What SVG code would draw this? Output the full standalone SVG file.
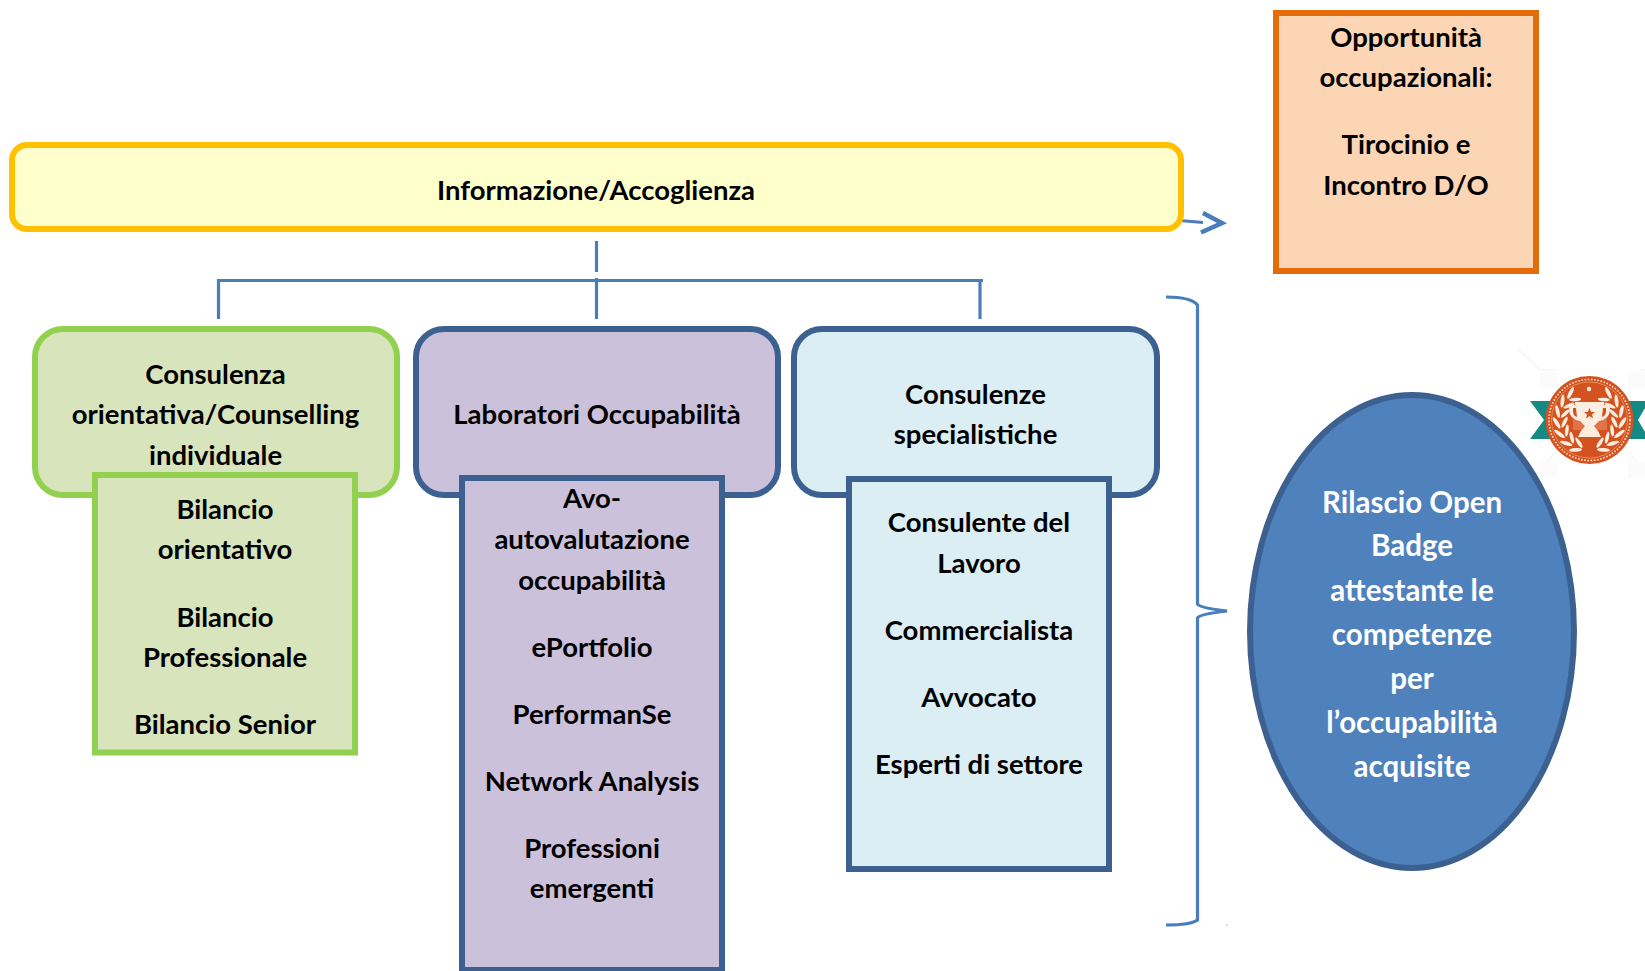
<svg xmlns="http://www.w3.org/2000/svg" width="1645" height="971" viewBox="0 0 1645 971">
<style>
text{font-family:"Lato","Carlito","Liberation Sans",sans-serif;font-weight:700;font-size:27.5px;fill:#000;text-anchor:middle}
text.w{fill:#fff;font-size:29.5px}
.c{fill:none;stroke:#4a7ebb;stroke-width:3.2}
.y{fill:#ffffcc;stroke:#ffc000;stroke-width:6}
.g{fill:#d8e4bc;stroke:#92d050;stroke-width:6}
.p{fill:#ccc1da;stroke:#3c6191;stroke-width:6}
.b{fill:#dbeef4;stroke:#3c6191;stroke-width:6}
.o{fill:#fcd5b5;stroke:#e46c0a;stroke-width:6}
.wm{fill:none;stroke:#f2f2f2;stroke-width:1.2}
.lf{fill:#fbeee0}
</style>
<defs>
<g id="leaves">
<ellipse class="lf" cx="1589.500" cy="387" rx="6.500" ry="1.900" transform="rotate(-28 1589.500 387)"/>
<ellipse class="lf" cx="1589.500" cy="395" rx="6" ry="1.800" transform="rotate(32 1589.500 395)"/>
</g>
<g id="laurel">
<use href="#leaves" transform="rotate(-35 1589.500 420)"/>
<use href="#leaves" transform="rotate(-55 1589.500 420)"/>
<use href="#leaves" transform="rotate(-75 1589.500 420)"/>
<use href="#leaves" transform="rotate(-95 1589.500 420)"/>
<use href="#leaves" transform="rotate(-115 1589.500 420)"/>
<use href="#leaves" transform="rotate(-135 1589.500 420)"/>
<use href="#leaves" transform="rotate(-155 1589.500 420)"/>
</g>
</defs>
<rect width="1645" height="971" fill="#fff"/>
<g id="badge">
<path class="wm" d="M1517 348L1540 370H1556M1640 370H1645M1556 452L1540 470M1630 452L1640 468"/>
<path d="M1540 372h18v16h-18zM1628 372h17v16h-17zM1540 462h18v16h-18zM1628 462h17v16h-17z" fill="#fbfbfb"/>
<path d="M1530 401H1645V408L1638 420L1645 432V439H1530L1544 420Z" fill="#158a84"/>
<circle cx="1589.500" cy="420" r="44" fill="#d4521f"/>
<circle cx="1589.500" cy="420" r="40.500" fill="none" stroke="#fbe6d2" stroke-width="1.600" stroke-dasharray="1.600 1.600"/>
<circle cx="1589.500" cy="420" r="38" fill="none" stroke="#eb9a70" stroke-width="0.800"/>
<use href="#laurel"/>
<use href="#laurel" transform="matrix(-1 0 0 1 3179 0)"/>
<rect x="1573" y="408" width="34" height="22" fill="#e0734a"/>
<path d="M1575 402H1604V405H1610V409Q1610 419 1599 421L1594 426Q1599 431 1601 437H1578Q1580 431 1585 426L1580 421Q1569 419 1569 409V405H1575Z" fill="#fbeee0"/>
<path d="M1573 408V411Q1573 416 1577 417L1576 408ZM1606 408V411Q1606 416 1602 417L1603 408Z" fill="#d4521f"/>
<path d="M1589.500 408L1591.200 412H1595L1592 414.500L1593 418.500L1589.500 416L1586 418.500L1587 414.500L1584 412H1587.800Z" fill="#d4521f"/>
<circle cx="1589" cy="389" r="2.200" fill="#fbeee0"/>
</g>
<g id="connectors">
<path class="c" d="M596.500 241V272M596.500 278V319M218.500 319V280.500H983M980 280.500V319"/>
<path class="c" d="M1180 220.500L1203 222.500"/>
<path d="M1203 213L1222 223L1201 232.500" fill="none" stroke="#4a7ebb" stroke-width="4.500"/>
<path class="c" d="M1166 297Q1191 297 1197.500 305V604Q1200 608 1227 611Q1200 614 1197.500 618V920Q1191 925 1166 925"/>
</g>
<g id="informazione"><rect class="y" x="12" y="145" width="1169" height="84" rx="15"/><text x="596" y="200">Informazione/Accoglienza</text></g>
<g id="opportunita"><rect class="o" x="1276" y="13" width="260" height="258"/>
<text x="1406" y="47">Opportunità</text><text x="1406" y="87">occupazionali:</text><text x="1406" y="154">Tirocinio e</text><text x="1406" y="195">Incontro D/O</text></g>
<g id="consulenza"><rect class="g" x="35" y="329" width="362" height="166" rx="28"/>
<text x="215.500" y="384">Consulenza</text><text x="215.500" y="424">orientativa/Counselling</text><text x="215.500" y="465">individuale</text></g>
<g id="bilanci"><rect class="g" x="95" y="475" width="260" height="277.500"/>
<text x="225" y="518.500">Bilancio</text><text x="225" y="558.500">orientativo</text><text x="225" y="626.500">Bilancio</text><text x="225" y="666.500">Professionale</text><text x="225" y="733.500">Bilancio Senior</text></g>
<g id="laboratori"><rect class="p" x="416" y="329" width="362" height="166" rx="28"/><text x="597" y="424">Laboratori Occupabilità</text></g>
<g id="laboratori-lista"><rect class="p" x="462" y="478" width="260" height="492"/>
<text x="592" y="508">Avo-</text><text x="592" y="548.500">autovalutazione</text><text x="592" y="589.500">occupabilità</text><text x="592" y="656.500">ePortfolio</text><text x="592" y="723.500">PerformanSe</text><text x="592" y="791">Network Analysis</text><text x="592" y="858">Professioni</text><text x="592" y="898">emergenti</text></g>
<g id="consulenze"><rect class="b" x="794" y="329" width="363" height="166" rx="28"/><text x="975.500" y="404">Consulenze</text><text x="975.500" y="444">specialistiche</text></g>
<g id="consulenze-lista"><rect class="b" x="849" y="479" width="260" height="390"/>
<text x="979" y="531.500">Consulente del</text><text x="979" y="572.500">Lavoro</text><text x="979" y="639.500">Commercialista</text><text x="979" y="706.500">Avvocato</text><text x="979" y="773.500">Esperti di settore</text></g>
<g id="open-badge"><ellipse cx="1412" cy="631.500" rx="162" ry="236.500" fill="#4f81bd" stroke="#3c6191" stroke-width="6"/>
<text class="w" x="1412" y="513">Rilascio Open</text><text class="w" x="1412" y="556">Badge</text><text class="w" x="1412" y="601">attestante le</text><text class="w" x="1412" y="645">competenze</text><text class="w" x="1412" y="689">per</text><text class="w" x="1412" y="733">l’occupabilità</text><text class="w" x="1412" y="777">acquisite</text></g>
<rect x="1226.500" y="924.500" width="1" height="1" fill="#4a7ebb"/>
</svg>
